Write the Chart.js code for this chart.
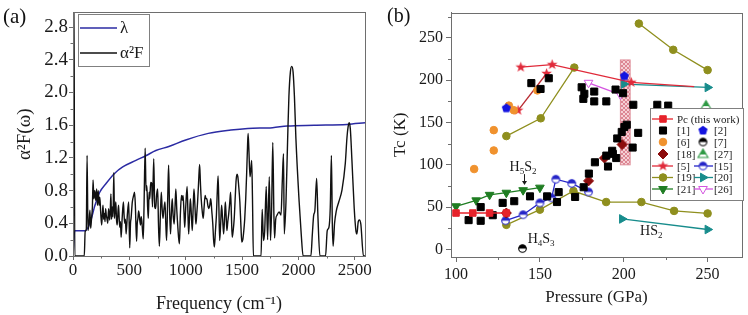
<!DOCTYPE html>
<html>
<head>
<meta charset="utf-8">
<script src="https://cdn.jsdelivr.net/npm/chart.js@4.4.1/dist/chart.umd.min.js"></script>
<style>
  body { margin: 0; background: #fff; width: 748px; height: 315px; overflow: hidden; position: relative; font-family: 'Liberation Serif', serif; }
  canvas { position: absolute; top: 0; }
  #ca { left: 0; }
  #cb { left: 372px; }
  .lab { position: absolute; color: #111; line-height: 1; }
</style>
</head>
<body>
<canvas id="ca" width="372" height="315"></canvas>
<canvas id="cb" width="376" height="315"></canvas>
<div class="lab" style="left:3px;top:6px;font-size:21px">(a)</div>
<div class="lab" style="left:387px;top:5px;font-size:20px">(b)</div>
<script>
// ---------- panel (a): Eliashberg function and lambda ----------
const freqA2F = [0, 8, 16, 100, 108, 118, 125, 133, 142, 150, 157, 164, 172, 178, 185, 193, 202, 210, 217, 224,
  231, 238, 245, 254, 260, 266, 272, 278, 284, 289, 295, 301, 308, 316, 325, 330, 336, 342, 348, 355,
  362, 368, 374, 380, 386, 392, 398, 404, 410, 415, 421, 427, 436, 447, 453, 459, 465, 471, 482, 494,
  503, 510, 515, 526, 538, 546, 553, 564, 570, 576, 582, 588, 594, 599, 605, 611, 617, 623, 630, 640,
  648, 655, 662, 668, 675, 681, 689, 698, 705, 716, 725, 733, 742, 751, 758, 766, 775, 783, 790, 798,
  807, 816, 823, 830, 840, 848, 856, 865, 872, 880, 888, 897, 905, 912, 921, 930, 937, 944, 952, 962,
  969, 976, 984, 991, 1000, 1012, 1019, 1026, 1034, 1041, 1050, 1058, 1066, 1073, 1082, 1090, 1097, 1105, 1114, 1123,
  1130, 1137, 1146, 1155, 1163, 1172, 1180, 1187, 1196, 1205, 1213, 1222, 1231, 1240, 1247, 1254, 1263, 1272, 1280, 1287,
  1294, 1301, 1310, 1318, 1327, 1336, 1344, 1351, 1358, 1365, 1373, 1380, 1390, 1398, 1405, 1412, 1420, 1430, 1440, 1447,
  1455, 1462, 1470, 1480, 1490, 1497, 1506, 1515, 1523, 1532, 1540, 1547, 1553, 1560, 1570, 1577, 1585, 1592, 1600, 1668,
  1678, 1690, 1700, 1714, 1726, 1741, 1752, 1762, 1772, 1782, 1788, 1798, 1810, 1828, 1845, 1856, 1867, 1874, 1889, 1904,
  1915, 1928, 1940, 1952, 1964, 1977, 2006, 2025, 2041, 2110, 2123, 2135, 2145, 2161, 2172, 2190, 2240, 2255, 2270, 2282,
  2292, 2300, 2307, 2320, 2335, 2357, 2386, 2415, 2430, 2440, 2450, 2460, 2474, 2494, 2510, 2518, 2530, 2540, 2553, 2576, 2590];
const valA2F = [0, 3.3, 0, 0, 0.30, 0.33, 1.23, 0.31, 0.40, 0.56, 0.34, 0.45, 0.60, 0.93, 0.70, 0.80, 0.68, 0.82, 0.62, 0.80,
  0.62, 0.72, 0.55, 0.38, 0.50, 0.62, 0.45, 0.52, 0.42, 0.58, 0.50, 0.46, 0.40, 0.58, 0.44, 0.52, 0.76, 0.45, 0.60, 0.48,
  1.02, 0.46, 0.58, 0.66, 0.44, 0.38, 0.52, 0.62, 0.45, 0.35, 0.42, 0.23, 0.46, 0.66, 0.50, 0.40, 0.45, 0.27, 0.50, 0.66,
  0.10, 0.40, 0.46, 0.66, 0.74, 0.78, 0.62, 0.18, 0.40, 0.46, 0.55, 0.50, 0.42, 0.38, 0.48, 0.42, 0.30, 0.21, 0.60, 1.32,
  0.80, 0.86, 0.60, 0.46, 0.78, 0.70, 0.90, 0.89, 0.60, 1.19, 0.60, 0.58, 0.75, 0.82, 0.40, 0.12, 0.50, 0.78, 0.60, 0.46,
  0.58, 0.66, 0.40, 0.19, 0.70, 1.11, 0.60, 0.27, 0.50, 0.70, 0.50, 0.39, 0.60, 0.82, 0.55, 0.35, 0.22, 0.15, 0.50, 0.74,
  0.68, 0.74, 0.55, 0.35, 0.60, 0.85, 0.55, 0.27, 0.50, 0.70, 0.50, 0.31, 0.60, 0.82, 0.60, 0.39, 0.50, 0.66, 0.90, 1.12,
  0.90, 0.70, 0.55, 0.46, 0.60, 0.74, 0.70, 0.70, 0.62, 0.58, 0.62, 0.70, 0.55, 0.39, 0.20, 0.11, 0.30, 0.50, 0.80, 0.98,
  0.60, 0.19, 0.40, 0.62, 0.45, 0.27, 0.45, 0.66, 0.50, 0.31, 0.42, 0.50, 0.65, 0.78, 0.50, 0.23, 0.30, 0.46, 0.75, 0.93,
  1.00, 0.97, 0.85, 0.66, 0.35, 0.17, 0.20, 0.31, 0.45, 0.70, 1.00, 1.30, 1.50, 1.30, 0.97, 1.05, 1.17, 0.70, 0, 0,
  0.57, 0.19, 0.30, 0.85, 0.20, 0.97, 0.19, 0.60, 1.39, 0.50, 0.22, 0.45, 0.50, 0.54, 0.50, 0.90, 1.25, 0.27, 0.66, 1.44,
  1.95, 2.25, 2.32, 2.25, 1.95, 1.44, 0.66, 0.25, 0, 0, 0.27, 0.50, 0.55, 0.95, 0.50, 0, 0, 0.31, 0.35, 0.60,
  1.23, 0.40, 0.12, 0.40, 0.55, 0.66, 0.81, 1.13, 1.45, 1.58, 1.63, 1.55, 1.17, 0.59, 0.30, 0.27, 0.42, 0.44, 0.39, 0, 0];
const freqLam = [0, 15, 110, 150, 195, 237, 295, 368, 441, 558, 650, 735, 850, 1000, 1200, 1400, 1550, 1770, 1900, 2140, 2430, 2590];
const valLam = [0, 0.31, 0.31, 0.40, 0.62, 0.78, 0.89, 1.01, 1.09, 1.17, 1.23, 1.29, 1.34, 1.42, 1.50, 1.54, 1.56, 1.57, 1.59, 1.60, 1.61, 1.63];
const freqTicks = [0, 500, 1000, 1500, 2000, 2500];
const a2fTicks = [0, 0.4, 0.8, 1.2, 1.6, 2.0, 2.4, 2.8];

// ---------- panel (b): Tc versus pressure ----------
const pressTicks = [100, 150, 200, 250];
const tcTicks = [0, 50, 100, 150, 200, 250];
const pcP = [100, 110, 120, 130];
const pcTc = [43, 43, 43, 43];
const r1P = [107.5, 114.7, 114.7, 121.9, 127.8, 134.7, 144.1, 154.3, 161.2, 160.2, 171, 176.1, 179.2, 182.8, 190.6, 195.5, 193.5,
  189.6, 193.1, 196.1, 198.8, 200.4, 201.8, 205.3, 208.6,
  144.9, 150.4, 155.3, 174.9, 176.5, 175.9, 182.4, 182.4, 189.6, 195.1, 199.6, 205.7, 220, 226.5];
const r1Tc = [34.6, 50, 33.8, 40.4, 55, 57, 62.7, 62.7, 67.7, 56, 62, 73.5, 89.6, 103, 98, 108, 113,
  110.9, 116.6, 131.2, 138.9, 144.7, 147.4, 120.4, 137.8,
  196.6, 189.7, 202.4, 191.7, 184, 178, 186.6, 175, 175, 189, 184.7, 171, 171, 170];
const r2P = [130, 200.4];
const r2Tc = [167, 205];
const r6P = [110.8, 122.5, 122.5, 131.5, 134.5, 148.5];
const r6Tc = [95, 117, 141, 170, 164.5, 188];
const r7P = [139.6];
const r7Tc = [1];
const r18P = [130, 179, 188.5, 199];
const r18Tc = [43, 81, 108, 124];
const r27P = [249];
const r27Tc = [170];
const r5aP = [138.6, 157.3, 204.5, 242];
const r5aTc = [215.5, 218.5, 197.5, 192.5];
const r5bP = [137, 154];
const r5bTc = [164.5, 208];
const r15P = [129.5, 140, 150, 157, 159.5, 169, 179];
const r15Tc = [34, 41, 55, 61, 83, 78, 68];
const r19aP = [130, 150.5, 170.5];
const r19aTc = [134, 155, 215];
const r19bP = [130, 150, 170, 189.5, 210.5, 230, 250];
const r19bTc = [29, 47, 69, 56, 56, 45.5, 42.5];
const r19cP = [209, 229.5, 250];
const r19cTc = [267, 236, 212];
const r20aP = [200, 250];
const r20aTc = [195.5, 191.5];
const r20bP = [199, 250];
const r20bTc = [36, 23.5];
const r21P = [100, 112, 120, 130, 140, 150];
const r21Tc = [51, 58, 64.5, 67, 70, 73];
const r26P = [179, 198];
const r26Tc = [197, 183];
const bandP = [198, 203.8];
const bandTc = [100, 224];

const FONT = "'Liberation Serif', 'Times New Roman', serif";
Chart.defaults.font.family = FONT;
const pts = (xs, ys) => xs.map((x, i) => ({ x: x, y: ys[i] }));

// little canvases for the marker shapes Chart.js does not have
function marker(size, draw) {
  const c = document.createElement('canvas');
  c.width = c.height = size;
  const g = c.getContext('2d');
  draw(g, size / 2);
  return c;
}
const pentagon = marker(11, (g, m) => {
  g.beginPath();
  for (let i = 0; i < 5; i++) {
    const a = -Math.PI / 2 + i * 2 * Math.PI / 5;
    g.lineTo(m + 4.8 * Math.cos(a), m + 4.8 * Math.sin(a));
  }
  g.closePath(); g.fillStyle = '#1414e0'; g.fill();
});
const star = (col) => marker(13, (g, m) => {
  g.beginPath();
  for (let i = 0; i < 10; i++) {
    const a = -Math.PI / 2 + i * Math.PI / 5, r = i % 2 ? 2.3 : 5.6;
    g.lineTo(m + r * Math.cos(a), m + r * Math.sin(a));
  }
  g.closePath(); g.fillStyle = col; g.fill();
});
const halfCircle = (col) => marker(11, (g, m) => {
  g.fillStyle = '#fff'; g.beginPath(); g.arc(m, m, 3.8, 0, 2 * Math.PI); g.fill();
  g.fillStyle = col; g.beginPath(); g.arc(m, m, 3.8, Math.PI, 2 * Math.PI); g.closePath(); g.fill();
  g.strokeStyle = col; g.lineWidth = 1.1; g.beginPath(); g.arc(m, m, 3.8, 0, 2 * Math.PI); g.stroke();
});
const halfTri = marker(13, (g, m) => {
  const path = () => { g.beginPath(); g.moveTo(m, m - 5); g.lineTo(m + 5, m + 3.5); g.lineTo(m - 5, m + 3.5); g.closePath(); };
  path(); g.fillStyle = '#fff'; g.fill();
  g.save(); path(); g.clip(); g.fillStyle = '#2e9a44'; g.fillRect(0, 0, 13, m + 0.5); g.restore();
  path(); g.strokeStyle = '#2e9a44'; g.lineWidth = 1.1; g.stroke();
});

// minor ticks and the closed frame round the plot area
const frameTicks = {
  id: 'frameTicks',
  afterDraw(chart, args, o) {
    const ctx = chart.ctx;
    ctx.save();
    ctx.strokeStyle = o.color; ctx.lineWidth = 1;
    [chart.scales.x, chart.scales.y].forEach(s => {
      const t = s.ticks.map(k => k.value);
      const step = t[1] - t[0];
      ctx.beginPath();
      for (let v = t[0] - step / 2; v <= s.max; v += step) {
        if (v < s.min) continue;
        const p = Math.round(s.getPixelForValue(v)) + 0.5;
        if (s.isHorizontal()) { ctx.moveTo(p, s.top); ctx.lineTo(p, s.top + o.len); }
        else { ctx.moveTo(s.right, p); ctx.lineTo(s.right - o.len, p); }
      }
      ctx.stroke();
    });
    const a = chart.chartArea;
    ctx.strokeRect(Math.round(a.left) + 0.5, Math.round(a.top) + 0.5, Math.round(a.right - a.left), Math.round(a.bottom - a.top));
    ctx.restore();
  }
};

// boxed legend drawn from the datasets' own styles
const boxLegend = {
  id: 'boxLegend',
  afterDraw(chart, args, o) {
    const ctx = chart.ctx;
    ctx.save();
    ctx.fillStyle = '#fff'; ctx.strokeStyle = '#808080'; ctx.lineWidth = 1;
    ctx.fillRect(o.box[0], o.box[1], o.box[2], o.box[3]);
    ctx.strokeRect(o.box[0] + 0.5, o.box[1] + 0.5, o.box[2], o.box[3]);
    ctx.font = o.font; ctx.textBaseline = 'middle'; ctx.textAlign = 'left';
    o.items.forEach(it => {
      const ds = chart.data.datasets[it.ds];
      const y = o.rows[it.row], c = o.cols[it.col];
      if (ds.showLine !== false) {
        ctx.strokeStyle = ds.borderColor; ctx.lineWidth = ds.borderWidth;
        ctx.beginPath(); ctx.moveTo(c.x0, y); ctx.lineTo(c.x1, y); ctx.stroke();
      }
      const r = Array.isArray(ds.pointRadius) ? ds.pointRadius[0] : ds.pointRadius;
      if (r) {
        ctx.fillStyle = ds.backgroundColor; ctx.strokeStyle = ds.borderColor; ctx.lineWidth = 1;
        Chart.helpers.drawPoint(ctx, { pointStyle: ds.pointStyle, rotation: ds.pointRotation || 0, radius: r, borderWidth: 1 }, c.m, y);
      }
      ctx.fillStyle = '#1a1a1a';
      ctx.fillText(it.text, c.t, y + 1);
    });
    ctx.restore();
  }
};

function axis(o) {
  return {
    type: 'linear', min: o.min, max: o.max,
    ticks: { padding: o.pad, autoSkip: false, maxRotation: 0,
      color: '#1a1a1a', font: { family: FONT, size: o.size }, callback: o.fmt || (v => v) },
    grid: { drawOnChartArea: false, tickLength: o.tl, color: '#6e6e6e' },
    border: { color: '#6e6e6e', width: 1 },
    title: { display: true, text: o.title, color: '#1a1a1a', font: { family: FONT, size: o.tsize }, padding: o.tpad },
    afterBuildTicks: s => { s.ticks = o.vals.map(v => ({ value: v })); },
    afterFit: s => { if (s.isHorizontal()) s.height = o.fit; else s.width = o.fit; }
  };
}

new Chart(document.getElementById('ca'), {
  type: 'line',
  data: { datasets: [
    { label: 'α²F', data: pts(freqA2F, valA2F), borderColor: '#111', borderWidth: 1.4, pointRadius: 0, cubicInterpolationMode: 'monotone' },
    { label: 'λ', data: pts(freqLam, valLam), borderColor: '#2b2ba3', borderWidth: 1.5, pointRadius: 0, cubicInterpolationMode: 'monotone' }
  ] },
  options: {
    responsive: false, animation: false, events: [],
    layout: { padding: { left: 0, top: 3, right: 4, bottom: 0 } },
    plugins: {
      legend: { display: false }, tooltip: { enabled: false },
      frameTicks: { len: 2.5, color: '#6e6e6e' },
      boxLegend: { box: [78, 14, 71, 52], font: '17px ' + FONT, rows: [28, 53],
        cols: [{ x0: 80, x1: 117, m: 0, t: 120 }],
        items: [{ ds: 1, row: 0, col: 0, text: 'λ' }, { ds: 0, row: 1, col: 0, text: 'α²F' }] }
    },
    scales: {
      x: axis({ min: 0, max: 2590, vals: freqTicks, pad: 0, size: 17, tl: 4, title: 'Frequency (cm⁻¹)', tsize: 18, tpad: { top: 0, bottom: 0 }, fit: 59 }),
      y: axis({ min: 0, max: 2.98, vals: a2fTicks, pad: 1, size: 19, tl: 4, title: 'α²F(ω)', tsize: 19, tpad: { top: 14, bottom: 0 }, fit: 73, fmt: v => v.toFixed(1) })
    }
  },
  plugins: [frameTicks, boxLegend]
});

// hatched pink pressure band and the phase labels
const hatchTile = document.createElement('canvas');
hatchTile.width = hatchTile.height = 4;
(g => {
  g.fillStyle = '#f5d0d5'; g.fillRect(0, 0, 4, 4);
  g.fillStyle = '#dc8592';
  for (let i = 0; i < 4; i++) { g.fillRect(i, i, 1, 1); g.fillRect(3 - i, i, 1, 1); }
})(hatchTile.getContext('2d'));

const notes = [
  { P: 131.9, Tc: 97, parts: [['H', 0], ['5', 1], ['S', 0], ['2', 1]] },
  { P: 142.7, Tc: 11.5, parts: [['H', 0], ['4', 1], ['S', 0], ['3', 1]] },
  { P: 209.7, Tc: 21, parts: [['H', 0], ['S', 0], ['2', 1]] }
];

const bandNotes = {
  id: 'bandNotes',
  beforeDatasetsDraw(chart) {
    const { ctx, scales: { x, y } } = chart;
    const x0 = x.getPixelForValue(bandP[0]), x1 = x.getPixelForValue(bandP[1]);
    const y0 = y.getPixelForValue(bandTc[1]), y1 = y.getPixelForValue(bandTc[0]);
    ctx.save();
    ctx.fillStyle = ctx.createPattern(hatchTile, 'repeat');
    ctx.fillRect(x0, y0, x1 - x0, y1 - y0);
    ctx.strokeStyle = '#de8c98'; ctx.lineWidth = 1;
    ctx.strokeRect(x0, y0, x1 - x0, y1 - y0);
    ctx.restore();
  },
  afterDatasetsDraw(chart) {
    const { ctx, scales: { x, y } } = chart;
    ctx.save();
    ctx.fillStyle = '#1a1a1a'; ctx.textBaseline = 'middle'; ctx.textAlign = 'left';
    notes.forEach(n => {
      let px = x.getPixelForValue(n.P);
      const py = y.getPixelForValue(n.Tc);
      n.parts.forEach(([s, sub]) => {
        ctx.font = (sub ? '9px ' : '14px ') + FONT;
        ctx.fillText(s, px, py + (sub ? 4 : 0));
        px += ctx.measureText(s).width;
      });
    });
    // arrow from H5S2 down to the [21] curve
    const ax = Math.round(x.getPixelForValue(140.7)) + 0.5;
    const ya = y.getPixelForValue(89), yb = y.getPixelForValue(76);
    ctx.strokeStyle = '#1a1a1a'; ctx.lineWidth = 1;
    ctx.beginPath(); ctx.moveTo(ax, ya); ctx.lineTo(ax, yb - 3); ctx.stroke();
    ctx.beginPath(); ctx.moveTo(ax - 2.5, yb - 4); ctx.lineTo(ax + 2.5, yb - 4); ctx.lineTo(ax, yb); ctx.closePath(); ctx.fill();
    ctx.restore();
  }
};

const line = (data, col, style, r, extra) => Object.assign({
  data: data, borderColor: col, backgroundColor: col, borderWidth: 1.3, pointStyle: style,
  pointRadius: r, pointBorderWidth: 1, showLine: true
}, extra || {});
const dots = (data, col, style, r, extra) => line(data, col, style, r, Object.assign({ showLine: false }, extra || {}));

new Chart(document.getElementById('cb'), {
  type: 'line',
  data: { datasets: [
    line(pts(pcP, pcTc), '#e6232b', 'rect', 4.6),                                   // 0 Pc
    dots(pts(r1P, r1Tc), '#000', 'rect', 5),                                       // 1 [1]
    dots(pts(r2P, r2Tc), '#1414e0', pentagon, 4.5),                                 // 2 [2]
    dots(pts(r6P, r6Tc), '#f0922e', 'circle', 3.8),                                 // 3 [6]
    dots(pts(r7P, r7Tc), '#000', halfCircle('#000'), 3.8),                          // 4 [7]
    dots(pts(r18P, r18Tc), '#8c0c0c', 'rectRot', 5),                                // 5 [18]
    dots(pts(r27P, r27Tc), '#2e9a44', halfTri, 5),                                  // 6 [27]
    line(pts(r5aP, r5aTc), '#e02a3a', star('#e02a3a'), [5, 5, 5, 0]),               // 7 [5]
    line(pts(r5bP, r5bTc), '#b82a30', star('#e02a3a'), 5),                          // 8 [5] second branch
    line(pts(r15P, r15Tc), '#2525c8', halfCircle('#2525c8'), 3.8),                  // 9 [15]
    line(pts(r19aP, r19aTc), '#8f8f1e', 'circle', 3.8),                             // 10 [19]
    line(pts(r19bP, r19bTc), '#8f8f1e', 'circle', 3.8),                             // 11 [19]
    line(pts(r19cP, r19cTc), '#8f8f1e', 'circle', 3.8),                             // 12 [19]
    line(pts(r20aP, r20aTc), '#178c8c', 'triangle', 5, { pointRotation: 90 }),      // 13 [20]
    line(pts(r20bP, r20bTc), '#178c8c', 'triangle', 5, { pointRotation: 90 }),      // 14 [20]
    line(pts(r21P, r21Tc), '#1f7d22', 'triangle', 5, { pointRotation: 180 }),       // 15 [21]
    line(pts(r26P, r26Tc), '#d455e0', 'triangle', 5, { pointRotation: 180, backgroundColor: '#fff' }) // 16 [26]
  ] },
  options: {
    responsive: false, animation: false, events: [],
    layout: { padding: { left: 0, top: 6, right: 3, bottom: 0 } },
    plugins: {
      legend: { display: false }, tooltip: { enabled: false },
      frameTicks: { len: 3, color: '#6e6e6e' },
      boxLegend: {
        box: [278, 108, 93, 92], font: '11px ' + FONT,
        rows: [119, 130.5, 142, 154, 166, 177.5, 189],
        cols: [{ x0: 280, x1: 301, m: 291, t: 305 }, { x0: 322, x1: 341, m: 331, t: 342 }],
        items: [
          { ds: 0, row: 0, col: 0, text: 'Pc (this work)' },
          { ds: 1, row: 1, col: 0, text: '[1]' }, { ds: 2, row: 1, col: 1, text: '[2]' },
          { ds: 3, row: 2, col: 0, text: '[6]' }, { ds: 4, row: 2, col: 1, text: '[7]' },
          { ds: 5, row: 3, col: 0, text: '[18]' }, { ds: 6, row: 3, col: 1, text: '[27]' },
          { ds: 7, row: 4, col: 0, text: '[5]' }, { ds: 9, row: 4, col: 1, text: '[15]' },
          { ds: 10, row: 5, col: 0, text: '[19]' }, { ds: 13, row: 5, col: 1, text: '[20]' },
          { ds: 15, row: 6, col: 0, text: '[21]' }, { ds: 16, row: 6, col: 1, text: '[26]' }
        ]
      }
    },
    scales: {
      x: axis({ min: 97, max: 270.5, vals: pressTicks, pad: 3, size: 16, tl: 5, title: 'Pressure (GPa)', tsize: 17, tpad: { top: 0, bottom: 7 }, fit: 58 }),
      y: axis({ min: -9, max: 280, vals: tcTicks, pad: 3, size: 16, tl: 5, title: 'Tc (K)', tsize: 17, tpad: { top: 18, bottom: 0 }, fit: 79 })
    }
  },
  plugins: [bandNotes, frameTicks, boxLegend]
});
</script>
</body>
</html>
